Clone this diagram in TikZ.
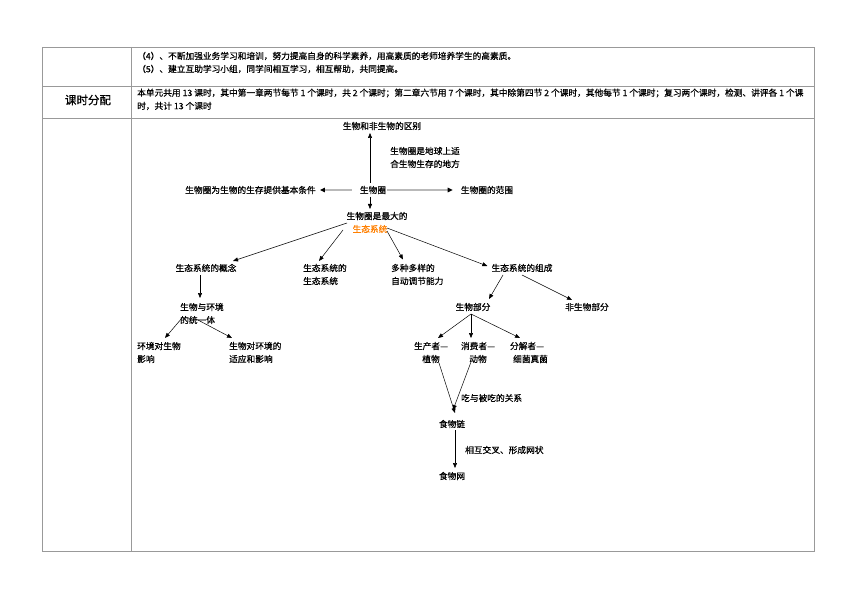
\documentclass[tikz,border=0pt]{standalone}
\usepackage{fontspec}
\setmainfont{Noto Sans CJK SC}[FakeBold=0.6,BoldFont=Noto Sans CJK SC]
\usetikzlibrary{arrows.meta,calc}
\XeTeXlinebreaklocale "zh"
\XeTeXlinebreakskip=0pt plus 1pt
\definecolor{orng}{RGB}{255,128,0}
\begin{document}
\begin{tikzpicture}[x=1pt,y=-1pt,
  txt/.style={inner sep=0pt, font=\fontsize{8.7}{13}\selectfont\bfseries},
  ml/.style={txt, align=left, anchor=west},
  mc/.style={txt, align=center},
  arr/.style={-{Triangle[length=5pt,width=4pt]}, line width=0.5pt},
  harr/.style={-{Triangle[length=5pt,width=4.5pt,color=black]}, line width=1.8pt, draw=gray!55},
  grid/.style={draw=gray!80, line width=0.8pt}]
\useasboundingbox[fill=white] (0,0) rectangle (860,607);
% table
\draw[grid] (42,47) rectangle (814,551);
\draw[grid] (131,47) -- (131,551);
\draw[grid] (42,86) -- (814,86);
\draw[grid] (42,118) -- (814,118);
% table texts
\node[txt, anchor=west] (t4) at (137,56) {（4）、不断加强业务学习和培训，努力提高自身的科学素养，用高素质的老师培养学生的高素质。};
\node[txt, anchor=west] (t5) at (137,69) {（5）、建立互助学习小组，同学间相互学习，相互帮助，共同提高。};
\node[txt, anchor=west, text width=675pt, align=justify] (t6) at (137,93) {\parfillskip=0pt\relax 本单元共用 13 课时，其中第一章两节每节 1 个课时，共 2 个课时；第二章六节用 7 个课时，其中除第四节 2 个课时，其他每节 1 个课时；复习两个课时，检测、讲评各 1 个课};
\node[txt, anchor=west] (t7) at (137,106) {时，共计 13 个课时};
\node[inner sep=0pt, font=\fontsize{11.5}{13}\selectfont\bfseries] (ks) at (88,100) {课时分配};
% diagram nodes
\node[txt] (A) at (382,126) {生物和非生物的区别};
\node[txt] (B) at (373,190) {生物圈};
\node[ml] (C) at (390,157.5) {生物圈是地球上适\\合生物生存的地方};
\node[txt] (L) at (250.5,190) {生物圈为生物的生存提供基本条件};
\node[txt] (R) at (487,190) {生物圈的范围};
\node[txt] (D1) at (377,216) {生物圈是最大的};
\node[txt, text=orng] (D2) at (370,229) {生态系统};
\node[txt] (E1) at (206,268) {生态系统的概念};
\node[ml] (E2) at (303,274.5) {生态系统的\\生态系统};
\node[ml] (E3) at (391,274.5) {多种多样的\\自动调节能力};
\node[txt] (E4) at (522,268) {生态系统的组成};
\node[ml] (F) at (180,313.5) {生物与环境\\的统一体};
\node[ml] (G1) at (137,352.5) {环境对生物\\影响};
\node[ml] (G2) at (229,352.5) {生物对环境的\\适应和影响};
\node[txt] (H1) at (473,307) {生物部分};
\node[txt] (H2) at (587,307) {非生物部分};
\node[mc] (I1) at (431,352.5) {生产者—\\植物};
\node[mc] (I2) at (478,352.5) {消费者—\\动物};
\node[mc] (I3) at (527,352.5) {分解者—\\\hspace*{7pt}细菌真菌};
\node[txt] (J) at (452,424) {食物链};
\node[ml] (K) at (461,398) {吃与被吃的关系};
\node[txt] (M) at (452,476) {食物网};
\node[ml] (N) at (465,450) {相互交叉、形成网状};
% connectors
\draw[arr] ($(B)+(-3,-7)$) -- ($(A)+(-12,7)$);
\draw[harr] ($(B.west)+(-8,0)$) -- ($(L.east)+(4,0)$);
\draw[harr] ($(B.east)+(1,0)$) -- ($(R.west)+(-8,0)$);
\draw[arr] ($(B)+(-3,7)$) -- ($(D1)+(-7,-7)$);
\draw[arr] ($(D2)+(-23,-6)$) -- ($(E1)+(27,-7)$);
\draw[arr] ($(D2)+(-27,1)$) -- ($(E2.west)+(16,-13.5)$);
\draw[arr] ($(D2)+(17,2)$) -- ($(E3.west)+(12,-15)$);
\draw[arr] ($(D2)+(17,-1)$) -- ($(E4.west)+(-4,-2)$);
\draw[arr] ($(E1)+(-6,7)$) -- ($(F.west)+(20,-15.5)$);
\draw[arr] ($(F.west)+(2,4.5)$) -- ($(G1.west)+(28,-14.5)$);
\draw[arr] ($(F.west)+(17,6)$) -- ($(G2.west)+(3,-14.5)$);
\draw[arr] ($(E4)+(-19,7)$) -- ($(H1)+(16,-8)$);
\draw[arr] ($(E4)+(0,7)$) -- ($(H2)+(-15,-7)$);
\draw[arr] ($(H1)+(-2,7)$) -- ($(I1)+(7,-14.5)$);
\draw[arr] ($(H1)+(-2,7)$) -- ($(I2)+(-7,-14.5)$);
\draw[arr] ($(H1)+(-2,7)$) -- ($(I3)+(-7,-14.5)$);
\draw[arr] ($(I1)+(8,10.5)$) -- ($(J)+(3,-11)$);
\draw[arr] ($(I2)+(-7,9.5)$) -- ($(J)+(1,-14)$);
\draw[arr] ($(J)+(3,6)$) -- ($(M)+(3,-8)$);
\end{tikzpicture}
\end{document}
